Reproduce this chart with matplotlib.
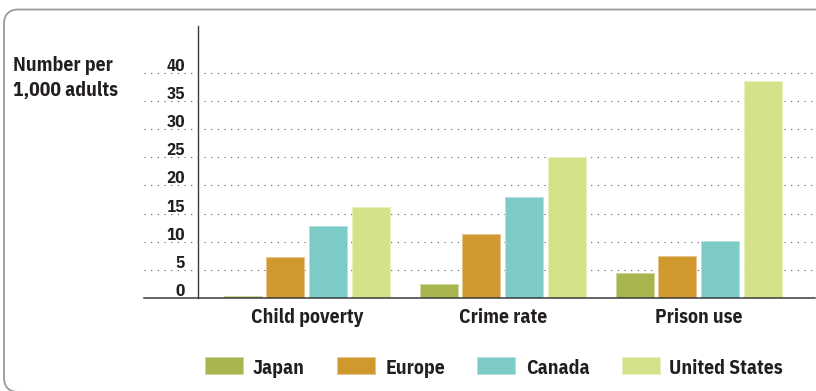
import matplotlib
matplotlib.use("Agg")
import matplotlib.pyplot as plt
import matplotlib.transforms as mtransforms
from matplotlib.patches import FancyBboxPatch, Rectangle
import numpy as np

# Data
categories = ["Child poverty", "Crime rate", "Prison use"]
series_names = ["Japan", "Europe", "Canada", "United States"]
japan = [0.3, 2.5, 4.4]
europe = [7.3, 11.4, 7.5]
canada = [12.8, 18.0, 10.1]
united_states = [16.1, 25.0, 38.5]
yticks = [0, 5, 10, 15, 20, 25, 30, 35, 40]
ylabel_lines = ["Number per", "1,000 adults"]

series = [japan, europe, canada, united_states]
colors = ["#A8B54E", "#D0982E", "#7CCBC7", "#D4E38A"]
text_color = "#231F20"
FONT = ["IBM Plex Sans Condensed", "Roboto Condensed", "DejaVu Sans"]
BIG = 14.1
SMALL = 12.3

W, H = 816, 391
fig = plt.figure(figsize=(W / 100, H / 100), dpi=100)


def fx(px):
    return px / W


def fy(py):
    return (H - py) / H


# Rounded outer frame
frame = FancyBboxPatch((fx(4), fy(392)), fx(830) - fx(4), fy(9.5) - fy(392),
                       boxstyle="round,pad=0,rounding_size=0.018",
                       transform=fig.transFigure, facecolor="none",
                       edgecolor="#9A9A9A", linewidth=1.3, mutation_aspect=W / H)
fig.patches.append(frame)

ax_left, ax_right, ax_top, ax_bottom = 144, 815, 26, 298
ax = fig.add_axes([fx(ax_left), fy(ax_bottom), fx(ax_right) - fx(ax_left),
                   fy(ax_top) - fy(ax_bottom)])
ax.set_facecolor("none")

group_px = 196.0
x = np.arange(len(categories))
bar_w = 38 / group_px
step = 42.7 / group_px
offsets = (np.arange(len(series)) - 1.5) * step

for vals, off, col in zip(series, offsets, colors):
    rgb = np.array(matplotlib.colors.to_rgb(col))
    edge = 0.55 * rgb + 0.45
    ax.bar(x + off, vals, width=bar_w, color=col, edgecolor=edge,
           linewidth=0.7, zorder=3)

left_units = (306.8 - ax_left) / group_px
ax.set_xlim(-left_units, -left_units + (ax_right - ax_left) / group_px)
ax.set_ylim(0, (ax_bottom - ax_top) / 5.63)

for s in ["top", "right", "left"]:
    ax.spines[s].set_visible(False)
ax.spines["bottom"].set_color("#3A3A3A")
ax.spines["bottom"].set_linewidth(1.1)
ax.spines["bottom"].set_zorder(4)

ax.set_yticks([t for t in yticks if t > 0])
ax.yaxis.grid(True, linestyle=(0, (1, 5)), linewidth=0.8, color="#555555", zorder=1)
ax.tick_params(left=False, bottom=False, labelleft=False, labelbottom=False)
ax.set_xticks([])

# Vertical value axis line
yaxis_frac = (197.7 - ax_left) / (ax_right - ax_left)
ax.plot([yaxis_frac, yaxis_frac], [0, 1], transform=ax.transAxes,
        color="#3A3A3A", linewidth=1.0, clip_on=False, zorder=4)

# Tick labels sitting above their grid lines
tick_x = (185 - ax_left) / (ax_right - ax_left)
lab_tr = mtransforms.blended_transform_factory(ax.transAxes, ax.transData) + \
    mtransforms.ScaledTranslation(0, 2 / 100, fig.dpi_scale_trans)
for t in yticks:
    ax.text(tick_x, t, str(t), transform=lab_tr, ha="right", va="baseline",
            fontsize=SMALL, fontweight="bold", family=FONT, color=text_color)

# Category labels
cat_tr = mtransforms.blended_transform_factory(ax.transData, ax.transAxes) + \
    mtransforms.ScaledTranslation(0, -25 / 100, fig.dpi_scale_trans)
for xi, c in zip(x, categories):
    ax.text(xi, 0, c, transform=cat_tr, ha="center", va="baseline",
            fontsize=BIG, fontweight="bold", family=FONT, color=text_color)

# Axis title
for i, line in enumerate(ylabel_lines):
    fig.text(fx(13), fy(71 + 25 * i), line, ha="left", va="baseline",
             fontsize=BIG, fontweight="bold", family=FONT, color=text_color)

# Legend
patch_x = [205, 337, 477, 621.7]
text_x = [253, 385.7, 526, 669.3]
for name, col, px, tx in zip(series_names, colors, patch_x, text_x):
    rgb = np.array(matplotlib.colors.to_rgb(col))
    fig.patches.append(Rectangle((fx(px), fy(373.7)), fx(38), 16.7 / H,
                                 transform=fig.transFigure, facecolor=col,
                                 edgecolor=0.55 * rgb + 0.45, linewidth=0.7))
    fig.text(fx(tx), fy(374), name, ha="left", va="baseline",
             fontsize=BIG, fontweight="bold", family=FONT, color=text_color)

fig.savefig("out.png", dpi=100)
